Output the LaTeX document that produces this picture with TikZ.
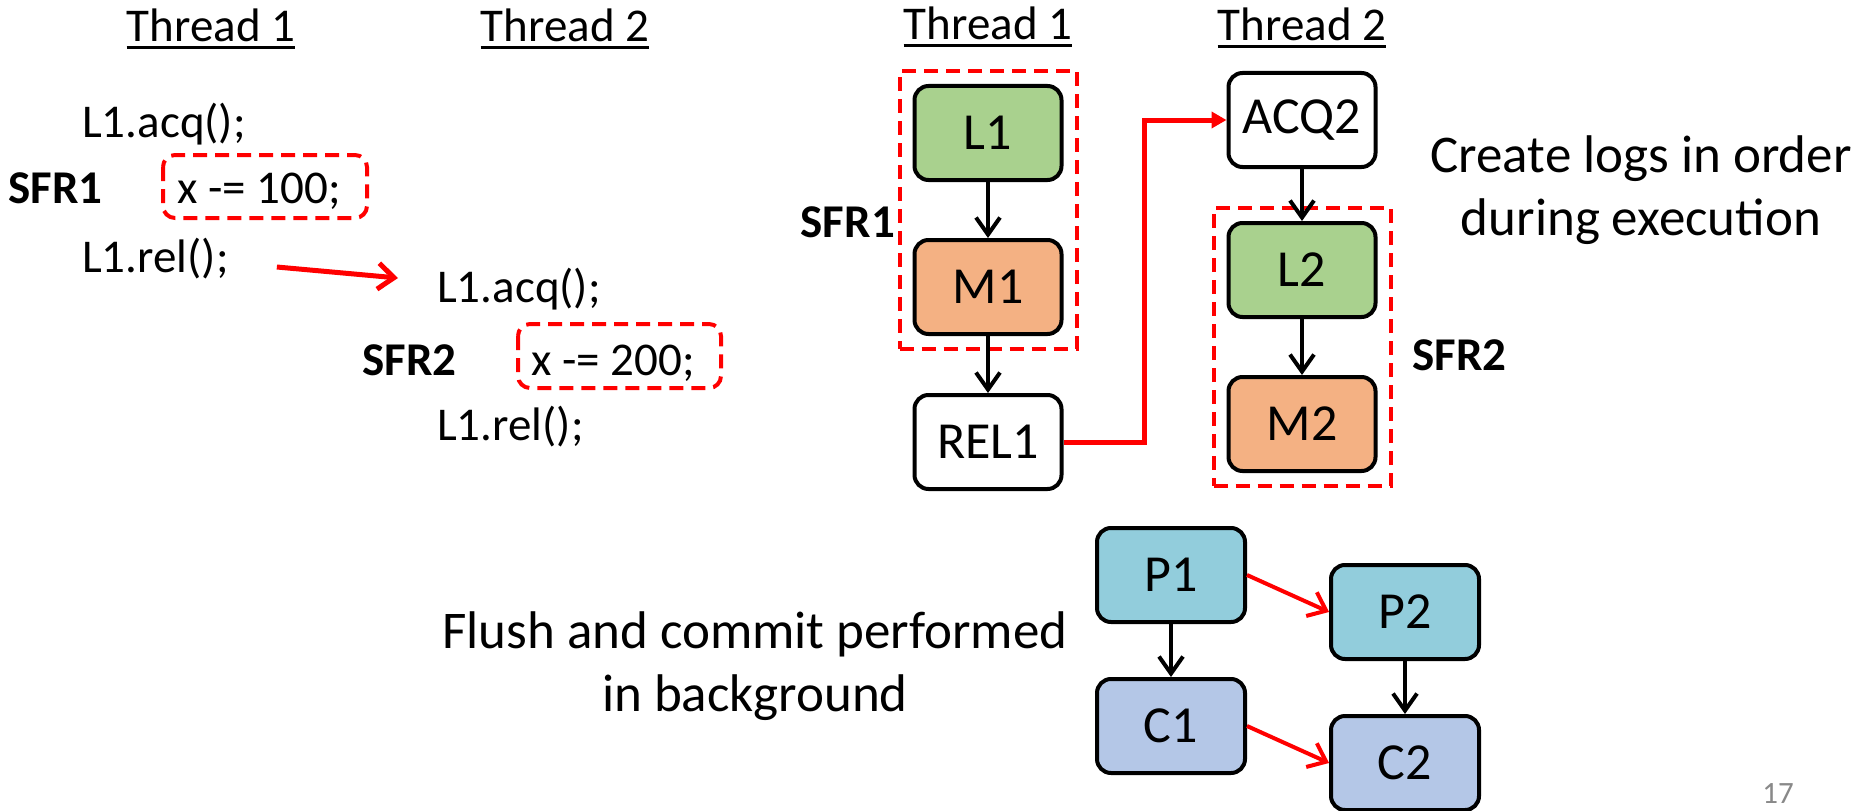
\documentclass[tikz,border=0pt]{standalone}
\usepackage{fontspec}
\setmainfont{Carlito}
\usetikzlibrary{arrows.meta,positioning,fit}
\definecolor{lkgreen}{RGB}{169,209,142}
\definecolor{lkorange}{RGB}{244,177,131}
\definecolor{lkteal}{RGB}{146,205,220}
\definecolor{lkblue}{RGB}{180,199,231}
\definecolor{lkred}{RGB}{255,0,0}
\definecolor{lkgray}{RGB}{137,137,137}

\begin{document}
\begin{tikzpicture}[x=1bp, y=-1bp,
  codetext/.style={font=\fontsize{47bp}{56bp}\selectfont, inner sep=0pt, anchor=base west},
  sfrlabel/.style={font=\fontsize{47bp}{56bp}\selectfont\bfseries, inner sep=0pt},
  title/.style={font=\fontsize{47bp}{56bp}\selectfont, inner sep=0pt, anchor=base},
  logbox/.style={draw=black, line width=4bp, rounded corners=14bp, minimum width=147bp,
                 minimum height=94bp, inner sep=0pt, font=\fontsize{52bp}{60bp}\selectfont},
  sfrbox/.style={draw=lkred, line width=4bp, dash pattern=on 14bp off 8bp, inner sep=13bp},
  codebox/.style={draw=lkred, line width=4bp, dash pattern=on 14bp off 8bp, rounded corners=12bp},
  blackarrow/.style={-{Straight Barb[length=17bp,width=24bp]}, line width=4bp},
  redarrow/.style={-{Straight Barb[length=16bp,width=26bp]}, lkred, line width=5bp}
]
\path[use as bounding box, fill=white] (0,0) rectangle (1860,811);

% Titles
\node[title] (ttlA) at (211,42) {Thread 1};
\node[title] (ttlB) at (565,42) {Thread 2};
\node[title] (ttlC) at (988,40) {Thread 1};
\node[title] (ttlD) at (1302,41) {Thread 2};
\foreach \t in {ttlA,ttlB,ttlC,ttlD}
  \draw[line width=3bp] ([yshift=-6bp]\t.base west) -- ([yshift=-6bp]\t.base east);

% Code of thread 1
\node[codetext] (acqA) at (82,137) {L1.acq();};
\node[sfrlabel, anchor=base west] (sfrA) at (8,203) {SFR1};
\node[codetext] (updA) at (177,203) {x -= 100;};
\draw[codebox] (163,155) rectangle (367,218);
\node[codetext] (relA) at (82,272) {L1.rel();};

% Code of thread 2
\node[codetext] (acqB) at (437,302) {L1.acq();};
\node[sfrlabel, anchor=base west] (sfrB) at (362,375) {SFR2};
\node[codetext] (updB) at (531,375) {x -= 200;};
\draw[codebox] (518,324) rectangle (721,388);
\node[codetext] (relB) at (437,440) {L1.rel();};

\draw[redarrow] ([xshift=48bp,yshift=5bp]relA.base east) -- ([xshift=-39bp,yshift=24bp]acqB.base west);

% Logs of thread 1
\node[logbox, fill=lkgreen] (l1) at (988,133) {L1};
\node[logbox, fill=lkorange] (m1) at (988,287) {M1};
\node[logbox, fill=white] (rel1) at (988,442) {REL1};
\node[sfrbox, fit=(l1)(m1)] (sfr1) {};
\node[sfrlabel, anchor=base east] (sfr1lbl) at (895,237) {SFR1};

% Logs of thread 2
\node[logbox, fill=white] (acq2) at (1302,120) {ACQ2};
\node[logbox, fill=lkgreen] (l2) at (1302,270) {L2};
\node[logbox, fill=lkorange] (m2) at (1302,424) {M2};
\node[sfrbox, fit=(l2)(m2)] (sfr2) {};
\node[sfrlabel, anchor=base west] (sfr2lbl) at (1412,370) {SFR2};

\draw[blackarrow] (l1) -- (m1);
\draw[blackarrow] (m1) -- (rel1);
\draw[blackarrow] (acq2) -- (l2);
\draw[blackarrow] (l2) -- (m2);
\draw[-{Triangle[length=15bp,width=16bp]}, lkred, line width=5bp]
  (rel1.east) -- ++(81,0) |- (acq2.west);

\node[align=center, inner sep=0pt, font=\fontsize{53bp}{63bp}\selectfont] (create) at (1641,190)
  {Create logs in order\\during execution};

% Flush and commit
\node[align=center, inner sep=0pt, font=\fontsize{53bp}{63bp}\selectfont] (flush) at (755,666)
  {Flush and commit performed\\in background};
\node[logbox, minimum width=148bp, fill=lkteal] (p1) at (1171,575) {P1};
\node[logbox, minimum width=148bp, fill=lkteal] (p2) at (1405,612) {P2};
\node[logbox, minimum width=148bp, fill=lkblue] (c1) at (1171,726) {C1};
\node[logbox, minimum width=148bp, fill=lkblue] (c2) at (1405,763) {C2};
\draw[blackarrow] (p1) -- (c1);
\draw[blackarrow] (p2) -- (c2);
\draw[redarrow, line width=4bp] (p1.east) -- (p2.west);
\draw[redarrow, line width=4bp] (c1.east) -- (c2.west);

\node[anchor=base, inner sep=0pt, text=lkgray, font=\fontsize{31bp}{36bp}\selectfont] (pageno) at (1778,803) {17};
\end{tikzpicture}
\end{document}
